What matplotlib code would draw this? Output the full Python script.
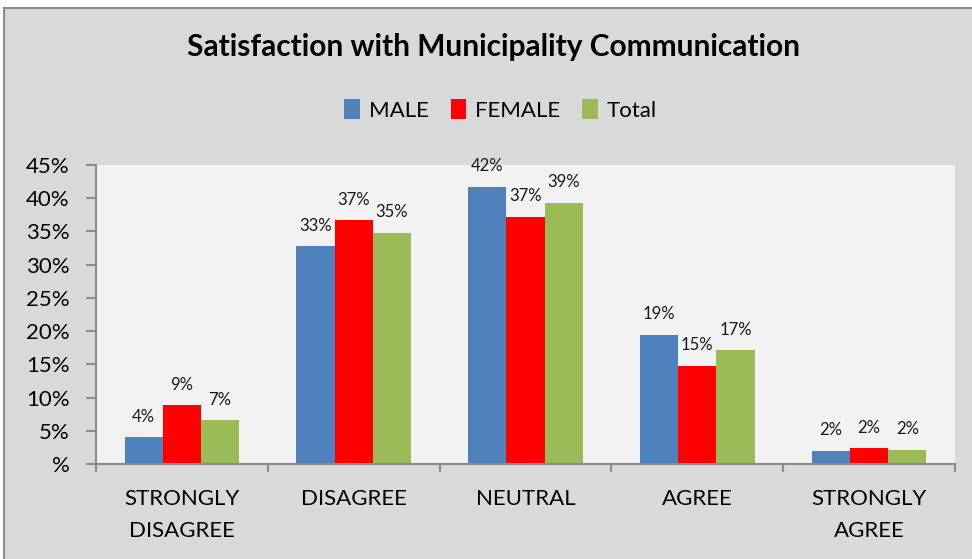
import numpy as np
import matplotlib.pyplot as plt
from matplotlib.patches import Rectangle

plt.rcParams['font.family'] = ['Lato', 'DejaVu Sans']

categories = ['STRONGLY\nDISAGREE', 'DISAGREE', 'NEUTRAL', 'AGREE', 'STRONGLY\nAGREE']
male = [4.06, 32.8, 41.7, 19.45, 1.96]
female = [8.83, 36.7, 37.2, 14.8, 2.4]
total = [6.55, 34.8, 39.3, 17.1, 2.15]

series = [('MALE', male, '#4f81bd'),
          ('FEMALE', female, '#ff0000'),
          ('Total', total, '#9bbb59')]

fig = plt.figure(figsize=(9.72, 5.59), dpi=100)
fig.patch.set_facecolor('white')
# chart area frame
fig.patches.append(Rectangle((4 / 972, -0.05), 1.1, 1 - 8 / 559 + 0.05,
                             transform=fig.transFigure, facecolor='#d9d9d9',
                             edgecolor='#8c8c8c', linewidth=1.5, zorder=-1))

ax = fig.add_axes([96 / 972, 95 / 559, 859 / 972, 299 / 559])
ax.set_facecolor('#f2f2f2')

x = np.arange(len(categories))
w = 0.222
for i, (name, vals, color) in enumerate(series):
    pos = x + (i - 1) * w
    bars = ax.bar(pos, vals, width=w, color=color, label=name,
                  edgecolor='none', zorder=2)
    for xp, v in zip(pos, vals):
        ax.annotate(f'{v:.0f}%', (xp, v), xytext=(0, 9), textcoords='offset points',
                    ha='center', va='bottom', fontsize=12, color='#1a1a1a')

ax.set_xlim(-0.5, 4.5)
ax.set_ylim(0, 45)
ax.set_yticks(np.arange(0, 46, 5))
ax.set_yticklabels(['%'] + [f'{v}%' for v in range(5, 46, 5)], fontsize=16)

ax.set_xticks(x)
ax.set_xticklabels(categories, fontsize=16, linespacing=1.75)
ax.set_xticks(np.arange(-0.5, 5, 1), minor=True)
ax.tick_params(axis='x', which='major', length=0, pad=18)
ax.tick_params(axis='x', which='minor', length=6, color='#8c8c8c', width=1.5)
ax.tick_params(axis='y', length=7, color='#8c8c8c', width=1.5, pad=12)

for side in ['top', 'right']:
    ax.spines[side].set_visible(False)
for side in ['left', 'bottom']:
    ax.spines[side].set_color('#8c8c8c')
    ax.spines[side].set_linewidth(1.5)

fig.text(0.508, 1 - 47 / 559, 'Satisfaction with Municipality Communication',
         ha='center', va='center', fontsize=21.5, fontweight='bold')

fig.legend(loc='center', bbox_to_anchor=(0.515, 1 - 110 / 559), ncol=3,
           frameon=False, fontsize=16, handlelength=0.7, handleheight=1.0,
           handletextpad=0.4, columnspacing=1.0)

fig.savefig('out.png', dpi=100)
